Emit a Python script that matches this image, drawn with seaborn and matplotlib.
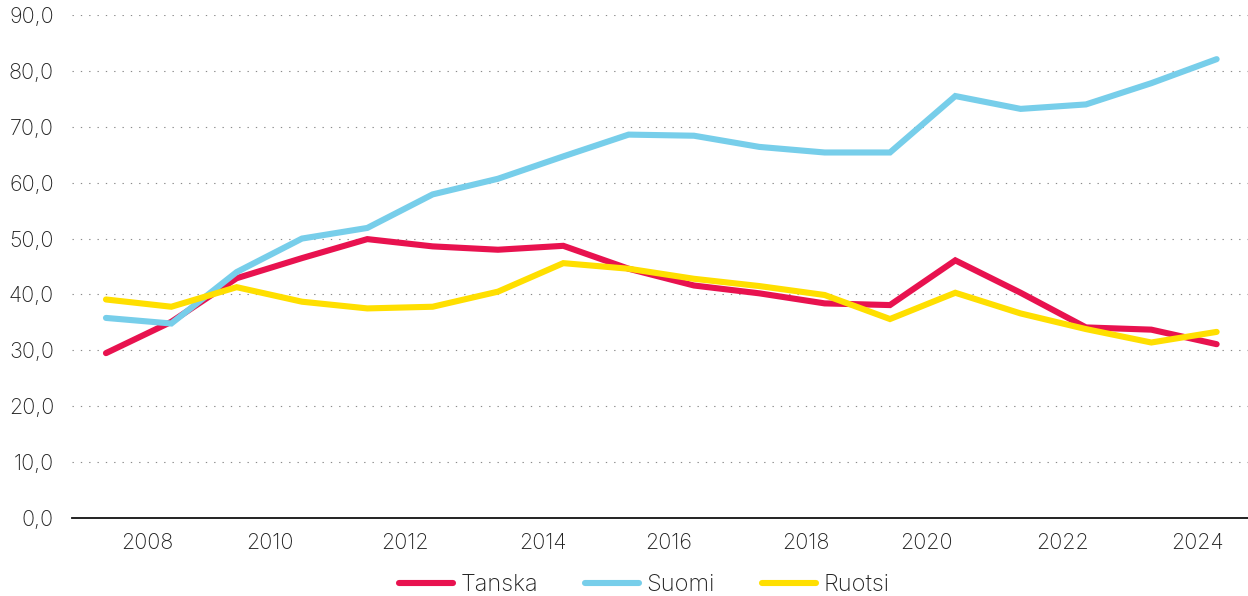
import numpy as np
import pandas as pd
import matplotlib
matplotlib.use("Agg")
import matplotlib.pyplot as plt
import seaborn as sns
from matplotlib.ticker import FuncFormatter

# ---- data ----
series_names = ["Tanska", "Suomi", "Ruotsi"]
point_index = list(range(18))
tanska = [29.5, 35.1, 42.9, 46.5, 49.9, 48.6, 48.0, 48.7, 44.6, 41.6,
          40.2, 38.4, 38.1, 46.1, 40.3, 34.1, 33.7, 31.1]
suomi = [35.8, 34.8, 44.0, 50.0, 51.9, 57.9, 60.7, 64.7, 68.6, 68.4,
         66.4, 65.4, 65.4, 75.5, 73.2, 74.0, 77.8, 82.1]
ruotsi = [39.1, 37.8, 41.3, 38.7, 37.5, 37.8, 40.5, 45.6, 44.6, 42.8,
          41.5, 39.9, 35.6, 40.3, 36.6, 33.8, 31.4, 33.3]
tick_labels = ["2008", "2010", "2012", "2014", "2016", "2018", "2020", "2022", "2024"]
tick_positions = [0.63, 2.51, 4.58, 6.69, 8.62, 10.71, 12.56, 14.64, 16.71]
y_ticks = [0, 10, 20, 30, 40, 50, 60, 70, 80, 90]

colors = {"Tanska": "#E8124F", "Suomi": "#77CEEA", "Ruotsi": "#FFDF00"}

df = pd.DataFrame({
    "x": point_index * 3,
    "value": tanska + suomi + ruotsi,
    "maa": sum([[n] * len(point_index) for n in series_names], []),
})

sns.set_theme(style="white")
plt.rcParams["font.family"] = ["Inter", "DejaVu Sans"]
plt.rcParams["font.weight"] = "light"

fig = plt.figure(figsize=(12.48, 5.96), dpi=100)
ax = fig.add_axes([72 / 1248, 78 / 596, 1 - 72 / 1248, (518 - 15) / 596])

sns.lineplot(data=df, x="x", y="value", hue="maa", hue_order=series_names,
             palette=colors, linewidth=4.4, ax=ax, legend=False,
             solid_capstyle="round", solid_joinstyle="miter")

ax.set_xlim(-0.52, 17.48)
ax.set_ylim(0, 90)
ax.set_yticks(y_ticks)
ax.yaxis.set_major_formatter(FuncFormatter(lambda v, p: f"{v:.1f}".replace(".", ",")))
ax.set_xticks(tick_positions)
ax.set_xticklabels(tick_labels)
ax.set_xlabel("")
ax.set_ylabel("")

for v in y_ticks[1:]:
    ax.axhline(v, color="#8a8a8a", linewidth=0.8, linestyle=(0, (1.2, 6.3)), zorder=0)

for s in ["top", "right", "left"]:
    ax.spines[s].set_visible(False)
ax.spines["bottom"].set_color("#111111")
ax.spines["bottom"].set_linewidth(1.3)

ax.tick_params(axis="both", length=0, labelsize=15.5, colors="#222222")
ax.tick_params(axis="y", pad=13)
ax.tick_params(axis="x", pad=11)

handles = [plt.Line2D([0], [0], color=colors[n], linewidth=4.4, solid_capstyle="round")
           for n in series_names]
fig.legend(handles, series_names, loc="center", bbox_to_anchor=(644 / 1248, 1 - 585 / 596),
           ncol=3, frameon=False, fontsize=17, handlelength=2.3, handletextpad=0.3,
           columnspacing=2.0, labelcolor="#222222")

fig.savefig("out.png", dpi=100)
